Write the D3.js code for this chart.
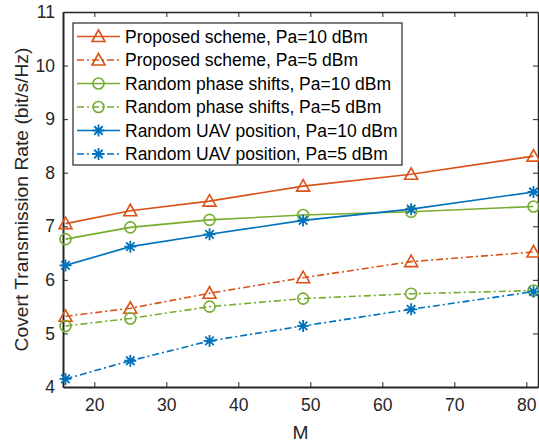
<!DOCTYPE html>
<html>
<head>
<meta charset="utf-8">
<script src="https://cdn.jsdelivr.net/npm/d3@7"></script>
<style>
  body { margin: 0; background: #fff; }
  svg { display: block; font-family: "Liberation Sans", Arial, sans-serif; }
</style>
</head>
<body>
<svg id="chart" width="539" height="445"></svg>
<script>
// data
const M = [16, 25, 36, 49, 64, 81];
const proposed10 = [7.05, 7.29, 7.47, 7.75, 7.97, 8.31];
const proposed5 = [5.32, 5.47, 5.75, 6.04, 6.34, 6.52];
const phase10 = [6.76, 6.98, 7.12, 7.21, 7.27, 7.37];
const phase5 = [5.14, 5.28, 5.50, 5.65, 5.74, 5.80];
const uav10 = [6.27, 6.62, 6.85, 7.11, 7.32, 7.64];
const uav5 = [4.15, 4.49, 4.86, 5.14, 5.45, 5.78];
const xTicks = [20, 30, 40, 50, 60, 70, 80];
const yTicks = [4, 5, 6, 7, 8, 9, 10, 11];

const series = [
    { name: "Proposed scheme, Pa=10 dBm", values: proposed10, color: "#D95319", dash: null, marker: "triangle" },
    { name: "Proposed scheme, Pa=5 dBm", values: proposed5, color: "#D95319", dash: "7,3,2,3", marker: "triangle" },
    { name: "Random phase shifts, Pa=10 dBm", values: phase10, color: "#77AC30", dash: null, marker: "circle" },
    { name: "Random phase shifts, Pa=5 dBm", values: phase5, color: "#77AC30", dash: "7,3,2,3", marker: "circle" },
    { name: "Random UAV position, Pa=10 dBm", values: uav10, color: "#0072BD", dash: null, marker: "star" },
    { name: "Random UAV position, Pa=5 dBm", values: uav5, color: "#0072BD", dash: "7,3,2,3", marker: "star" }
];

const plotLeft = 63, plotRight = 538, plotTop = 12, plotBottom = 387;
const svg = d3.select("#chart");

const x = d3.scaleLinear().domain([15.65, 81.62]).range([plotLeft, plotRight]);
const y = d3.scaleLinear().domain([4, 11]).range([plotBottom, plotTop]);

const axisColor = "#262626";
const fontSize = 17.5;
const labelSize = 19.25;

// axes with inward ticks (matlab style)
const gx = svg.append("g").attr("transform", `translate(0,${plotBottom})`)
    .call(d3.axisBottom(x).tickValues(xTicks).tickSizeInner(-5).tickSizeOuter(0).tickPadding(12));
const gy = svg.append("g").attr("transform", `translate(${plotLeft},0)`)
    .call(d3.axisLeft(y).tickValues(yTicks).tickFormat(d3.format("d"))
        .tickSizeInner(-5).tickSizeOuter(0).tickPadding(8));
const gxTop = svg.append("g").attr("transform", `translate(0,${plotTop})`)
    .call(d3.axisTop(x).tickValues(xTicks).tickSizeInner(-5).tickSizeOuter(0).tickFormat(""));
const gyRight = svg.append("g").attr("transform", `translate(${plotRight},0)`)
    .call(d3.axisRight(y).tickValues(yTicks).tickSizeInner(-5).tickSizeOuter(0).tickFormat(""));

[gx, gy, gxTop, gyRight].forEach(g => {
    g.select(".domain").attr("stroke", axisColor).attr("stroke-width", 1.5);
    g.selectAll(".tick line").attr("stroke", axisColor).attr("stroke-width", 1);
    g.selectAll(".tick text").attr("fill", axisColor).attr("font-size", fontSize)
        .attr("font-family", "'Liberation Sans', Arial, sans-serif");
});
gx.select(".domain").attr("stroke-width", 2);
gy.select(".domain").attr("stroke-width", 2);

// axis labels
svg.append("text")
    .attr("x", (plotLeft + plotRight) / 2).attr("y", 439)
    .attr("text-anchor", "middle").attr("font-size", labelSize).attr("fill", axisColor)
    .text("M");
svg.append("text")
    .attr("transform", `translate(28,${(plotTop + plotBottom) / 2}) rotate(-90)`)
    .attr("text-anchor", "middle").attr("font-size", labelSize).attr("fill", axisColor)
    .text("Covert Transmission Rate (bit/s/Hz)");

function drawMarker(g, type, color) {
    if (type === "triangle") {
        g.append("path").attr("d", "M0,-6.5L6.5,5L-6.5,5Z")
            .attr("fill", "none").attr("stroke", color).attr("stroke-width", 1.6);
    } else if (type === "circle") {
        g.append("circle").attr("r", 5.5)
            .attr("fill", "none").attr("stroke", color).attr("stroke-width", 1.6);
    } else {
        const r = 6;
        const d = [0, 45, 90, 135].map(a => {
            const t = a * Math.PI / 180;
            return `M${-r * Math.cos(t)},${-r * Math.sin(t)}L${r * Math.cos(t)},${r * Math.sin(t)}`;
        }).join("");
        g.append("path").attr("d", d).attr("stroke", color).attr("stroke-width", 1.8);
    }
}

const line = d3.line().x((d, i) => x(M[i])).y(d => y(d));

series.forEach(s => {
    svg.append("path")
        .attr("d", line(s.values))
        .attr("fill", "none")
        .attr("stroke", s.color)
        .attr("stroke-width", 1.6)
        .attr("stroke-dasharray", s.dash);
    s.values.forEach((v, i) => {
        const g = svg.append("g").attr("transform", `translate(${x(M[i])},${y(v)})`);
        drawMarker(g, s.marker, s.color);
    });
});

// legend
const legend = svg.append("g");
legend.append("rect")
    .attr("x", 73).attr("y", 23).attr("width", 329).attr("height", 142)
    .attr("fill", "#fff").attr("stroke", axisColor).attr("stroke-width", 1.2);
series.forEach((s, i) => {
    const cy = 36.5 + i * 23.5;
    const row = legend.append("g").attr("transform", `translate(0,${cy})`);
    row.append("line").attr("x1", 77).attr("x2", 120).attr("y1", 0).attr("y2", 0)
        .attr("stroke", s.color).attr("stroke-width", 1.6).attr("stroke-dasharray", s.dash);
    drawMarker(row.append("g").attr("transform", "translate(98.5,0)"), s.marker, s.color);
    row.append("text").attr("x", 125).attr("y", 6).attr("font-size", fontSize)
        .attr("fill", "#000").text(s.name);
});
</script>
</body>
</html>
